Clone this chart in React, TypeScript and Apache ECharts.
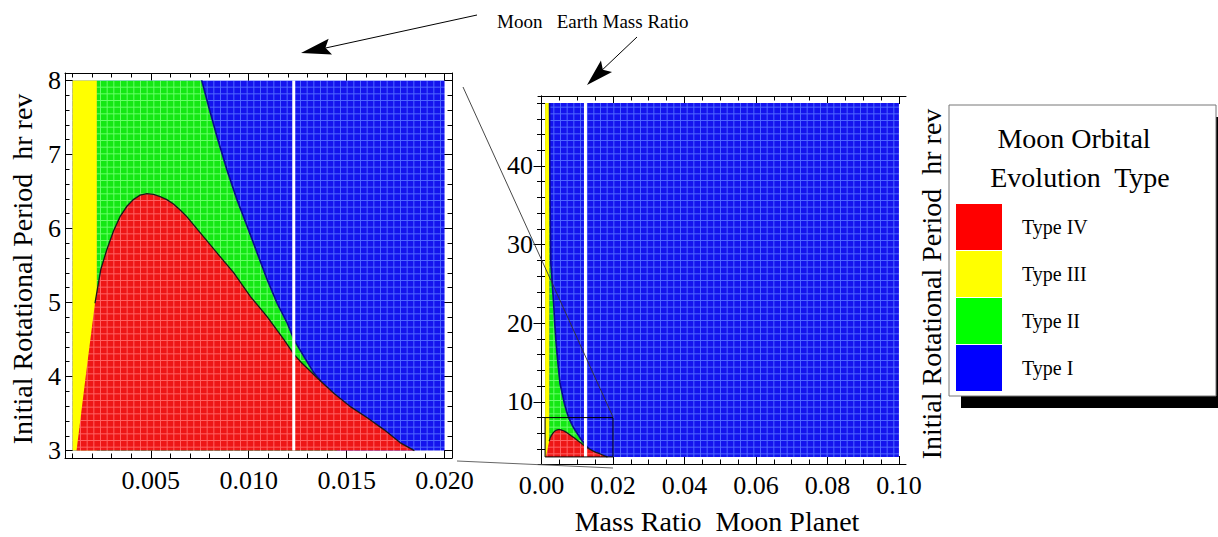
import React, { useEffect, useRef } from "react";
import * as echarts from "echarts";

const FONT = "Liberation Serif";

// Region boundaries: [mass ratio moon/planet, initial rotational period (hr/rev)]
const typeIVBoundary: [number, number][] = [
  [0.00121, 3.0], [0.00176, 4.18], [0.00215, 4.99], [0.00245, 5.45], [0.00275, 5.71],
  [0.0031, 5.97], [0.00343, 6.16], [0.00378, 6.3], [0.00411, 6.39], [0.00445, 6.45],
  [0.0048, 6.47], [0.00514, 6.46], [0.00548, 6.43], [0.00582, 6.39], [0.00616, 6.33],
  [0.0065, 6.25], [0.00684, 6.16], [0.00753, 5.94], [0.00838, 5.67], [0.00924, 5.4],
  [0.01009, 5.08], [0.01094, 4.81], [0.0118, 4.5], [0.01231, 4.3], [0.01265, 4.2],
  [0.0135, 3.98], [0.01436, 3.77], [0.01521, 3.59], [0.01607, 3.44], [0.01692, 3.28],
  [0.01777, 3.1], [0.01846, 3.0],
];

const typeIIBoundary: [number, number][] = [
  [0.00225, 48], [0.0024, 36], [0.0026, 27.6], [0.003, 25.1], [0.0034, 22.5],
  [0.0037, 20.0], [0.0041, 17.4], [0.0046, 14.9], [0.0052, 12.3], [0.0064, 9.8],
  [0.007, 8.8], [0.0076, 8.0], [0.00795, 7.65], [0.00838, 7.24], [0.00889, 6.79],
  [0.0094, 6.39], [0.00992, 6.03], [0.01043, 5.67], [0.01094, 5.31], [0.01145, 4.99],
  [0.01197, 4.72], [0.01231, 4.5], [0.01282, 4.27], [0.01333, 4.05], [0.0139, 3.87],
  [0.0145, 3.7],
];

const typeIIIEdge = 0.00225;
const moonEarthRatio = 0.0123;

// Sampled domain of both panels
const massMin = 0.001;
const periodMin = 3;
const zoomPanel = { massMax: 0.02, periodMax: 8 };
const widePanel = { massMax: 0.1, periodMax: 48 };

// Axis ticks
const zoomMassTicks = [0.005, 0.01, 0.015, 0.02];
const zoomPeriodTicks = [3, 4, 5, 6, 7, 8];
const wideMassTicks = [0, 0.02, 0.04, 0.06, 0.08, 0.1];
const widePeriodTicks = [10, 20, 30, 40];

const typeNames = ["Type IV", "Type III", "Type II", "Type I"];
const legendColors = ["#ff0000", "#ffff00", "#00ff00", "#0000ff"];
// sampling-mesh look of the density plot: [cell colour, mesh line colour]
const meshColors: [string, string][] = [
  ["#ee1616", "#ff6060"],
  ["#ffff00", "#ffff50"],
  ["#14e814", "#66ff66"],
  ["#1414ee", "#4d66ff"],
];

const periodTitle = "Initial Rotational Period  hr rev";
const massTitle = "Mass Ratio  Moon Planet";

function meshFill([base, line]: [string, string]) {
  const svg =
    `<svg xmlns='http://www.w3.org/2000/svg' width='20' height='20'>` +
    `<rect width='20' height='20' fill='${base}'/>` +
    `<path d='M0 0.5H20M0 7.17H20M0 13.83H20M0.5 0V20M7.17 0V20M13.83 0V20' stroke='${line}' stroke-width='1'/>` +
    `</svg>`;
  return {
    image: "data:image/svg+xml;charset=utf-8," + encodeURIComponent(svg),
    repeat: "repeat",
    imageWidth: 20,
    imageHeight: 20,
  };
}

function stepTicks(a: number, b: number, s: number) {
  const out: number[] = [];
  for (let i = 0; a + i * s <= b + 1e-9; i++) out.push(+(a + i * s).toFixed(6));
  return out;
}

function polygonSeries(name: string | undefined, legendColor: string, fill: any,
  stroke: string | null, lineWidth: number, pts: [number, number][], axis: number, closed = true) {
  return {
    type: "custom",
    name,
    coordinateSystem: "cartesian2d",
    xAxisIndex: axis,
    yAxisIndex: axis,
    silent: true,
    itemStyle: { color: legendColor },
    data: [pts[0]],
    renderItem: (_p: any, api: any) => ({
      type: closed ? "polygon" : "polyline",
      shape: { points: pts.map((p) => api.coord(p)) },
      style: closed
        ? { fill: fill ?? "none", stroke: stroke ?? "none", lineWidth }
        : { fill: "none", stroke, lineWidth },
    }),
  };
}

function panelSeries(panel: { massMax: number; periodMax: number }, axis: number, isWide: boolean) {
  const top = panel.periodMax;
  const blue: [number, number][] = [
    [massMin, periodMin], [massMin, top], [panel.massMax, top], [panel.massMax, periodMin],
  ];
  const yellow: [number, number][] = [
    [massMin, periodMin], [massMin, top], [typeIIIEdge, top], [typeIIIEdge, periodMin],
  ];
  const greenCurve = typeIIBoundary.map(([m, p]) => [m, Math.min(p, top)] as [number, number]);
  const green: [number, number][] = [
    [typeIIIEdge, periodMin], ...greenCurve, [typeIIBoundary[typeIIBoundary.length - 1][0], periodMin],
  ];
  const greenEdge = typeIIBoundary.filter(([m, p]) => p <= top && m <= 0.0139);
  const redEdge = typeIVBoundary.filter(([m]) => m >= 0.00215);
  const marker: [number, number][] = [[moonEarthRatio, periodMin], [moonEarthRatio, top]];

  const list: any[] = [
    polygonSeries(typeNames[3], legendColors[3], meshFill(meshColors[3]), null, 0, blue, axis),
    polygonSeries(typeNames[1], legendColors[1], meshColors[1][0], null, 0, yellow, axis),
    polygonSeries(typeNames[2], legendColors[2], meshFill(meshColors[2]), null, 0, green, axis),
    polygonSeries(undefined, "#0b0b90", null, "#0b0b90", 1.6, greenEdge, axis, false),
    polygonSeries(typeNames[0], legendColors[0], meshFill(meshColors[0]), null, 0, typeIVBoundary, axis),
    polygonSeries(undefined, "#222", null, "#1a1a1a", 1.3, redEdge, axis, false),
    polygonSeries(undefined, "#fff", null, "#ffffff", 3, marker, axis, false),
  ];
  if (isWide) {
    const box: [number, number][] = [
      [massMin, periodMin], [massMin, zoomPanel.periodMax], [zoomPanel.massMax, zoomPanel.periodMax], [zoomPanel.massMax, periodMin],
    ];
    list.push(polygonSeries(undefined, "#000", null, "#000", 1, box, axis));
  }
  return list;
}

function axisPair(gridIndex: number, position: string, min: number, max: number,
  major: number[], minor: number[], label: null | ((v: number) => string), margin: number) {
  const base = {
    type: "value", gridIndex, position, min, max,
    splitLine: { show: false },
    axisLine: { show: true, lineStyle: { color: "#000", width: 1 } },
  };
  return [
    {
      ...base,
      axisTick: { show: true, inside: true, length: 8, customValues: major, lineStyle: { color: "#000", width: 1 } },
      axisLabel: label
        ? { show: true, customValues: major, formatter: label, fontFamily: FONT, fontSize: 26, color: "#000", margin }
        : { show: false },
    },
    {
      ...base,
      axisLine: { show: false },
      axisTick: { show: true, inside: true, length: 4.5, customValues: minor, lineStyle: { color: "#000", width: 1 } },
      axisLabel: { show: false },
    },
  ];
}

function arrowHead(tip: [number, number], tail: [number, number], len: number, half: number, notch: number) {
  const dx = tip[0] - tail[0];
  const dy = tip[1] - tail[1];
  const d = Math.hypot(dx, dy);
  const ux = dx / d, uy = dy / d;
  const nx = -uy, ny = ux;
  const bx = tip[0] - ux * len, by = tip[1] - uy * len;
  return [
    [tip[0], tip[1]],
    [bx + nx * half, by + ny * half],
    [bx + ux * notch, by + uy * notch],
    [bx - nx * half, by - ny * half],
  ];
}

function label(text: string, x: number, y: number, size: number, rotation = 0, align = "center") {
  return {
    type: "text", z: 7, x, y, rotation,
    style: { text, font: `${size}px "${FONT}"`, fill: "#000", align, verticalAlign: "middle" },
  };
}

export default function App() {
  const ref = useRef<HTMLDivElement>(null);

  useEffect(() => {
    if (!ref.current) return;
    const chart = echarts.init(ref.current, null, { renderer: "svg" });

    const zoomX = axisPair(0, "bottom", 0.00062, 0.02038, zoomMassTicks, stepTicks(0.001, 0.02, 0.001), (v) => v.toFixed(3), 9);
    const zoomXTop = axisPair(0, "top", 0.00062, 0.02038, zoomMassTicks, stepTicks(0.001, 0.02, 0.001), null, 0);
    const wideX = axisPair(1, "bottom", -0.00098, 0.10198, wideMassTicks, stepTicks(0, 0.1, 0.005), (v) => v.toFixed(2), 8);
    const wideXTop = axisPair(1, "top", -0.00098, 0.10198, wideMassTicks, stepTicks(0, 0.1, 0.005), null, 0);
    const zoomY = axisPair(0, "left", 2.9, 8.1, zoomPeriodTicks, stepTicks(3, 8, 0.2), (v) => String(v), 4);
    const zoomYRight = axisPair(0, "right", 2.9, 8.1, zoomPeriodTicks, stepTicks(3, 8, 0.2), null, 0);
    const wideY = axisPair(1, "left", 2.1, 48.9, widePeriodTicks, stepTicks(4, 48, 2), (v) => String(v), 5);
    const wideYRight = axisPair(1, "right", 2.1, 48.9, widePeriodTicks, stepTicks(4, 48, 2), null, 0);

    const a1Tail: [number, number] = [477, 15];
    const a1Tip: [number, number] = [301, 53];
    const a2Tail: [number, number] = [637, 37];
    const a2Tip: [number, number] = [587, 85];

    chart.setOption({
      animation: false,
      backgroundColor: "#fff",
      grid: [
        { left: 65, top: 73, width: 387, height: 385, outerBoundsMode: "none" },
        { left: 538, top: 96, width: 368, height: 368, outerBoundsMode: "none" },
      ],
      xAxis: [...zoomX, ...zoomXTop, ...wideX, ...wideXTop],
      yAxis: [...zoomY, ...zoomYRight, ...wideY, ...wideYRight],
      series: [...panelSeries(zoomPanel, 0, false), ...panelSeries(widePanel, 4, true)],
      legend: {
        data: typeNames,
        orient: "vertical",
        left: 956,
        top: 204,
        padding: 0,
        itemWidth: 46,
        itemHeight: 46,
        itemGap: 1,
        icon: "rect",
        selectedMode: false,
        z: 10,
        textStyle: { fontFamily: FONT, fontSize: 20, color: "#000", padding: [0, 0, 0, 15] },
      },
      graphic: [
        label(periodTitle, 22, 269, 28, Math.PI / 2),
        label(periodTitle, 931, 284, 28, Math.PI / 2),
        label(massTitle, 717, 521, 28),
        { type: "rect", z: 5, shape: { x: 961, y: 117, width: 262, height: 291 }, style: { fill: "#000" } },
        { type: "rect", z: 6, shape: { x: 949, y: 105, width: 267, height: 291 }, style: { fill: "#fff", stroke: "#777", lineWidth: 1 } },
        label("Moon Orbital", 1074, 138, 28),
        label("Evolution  Type", 1080, 177, 28),
        label("Moon   Earth Mass Ratio", 497, 21, 19, 0, "left"),
        { type: "line", z: 7, shape: { x1: a1Tail[0], y1: a1Tail[1], x2: a1Tip[0] + 20, y2: a1Tip[1] - 4 }, style: { stroke: "#000", lineWidth: 1 } },
        { type: "polygon", z: 7, shape: { points: arrowHead(a1Tip, a1Tail, 30, 8, 5) }, style: { fill: "#000" } },
        { type: "line", z: 7, shape: { x1: a2Tail[0], y1: a2Tail[1], x2: a2Tip[0] + 12, y2: a2Tip[1] - 12 }, style: { stroke: "#000", lineWidth: 1 } },
        { type: "polygon", z: 7, shape: { points: arrowHead(a2Tip, a2Tail, 27, 8, 5) }, style: { fill: "#000" } },
        { type: "line", z: 7, shape: { x1: 463, y1: 87, x2: 613, y2: 417 }, style: { stroke: "#333", lineWidth: 0.9 } },
        { type: "line", z: 7, shape: { x1: 457, y1: 461, x2: 613, y2: 468 }, style: { stroke: "#555", lineWidth: 0.9 } },
      ],
    });

    return () => chart.dispose();
  }, []);

  return (
    <div
      ref={ref}
      style={{ position: "fixed", left: 0, top: 0, width: 1218, height: 537, background: "#fff" }}
    />
  );
}
